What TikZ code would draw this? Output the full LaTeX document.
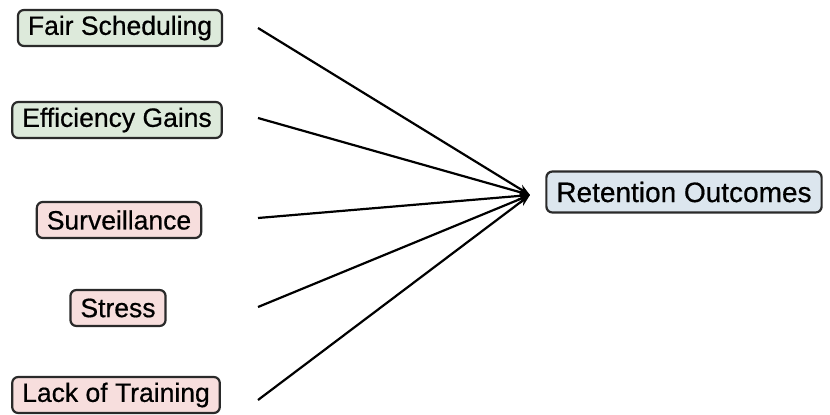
\documentclass[tikz,border=0pt]{standalone}
\usepackage{fontspec}
\setmainfont{Liberation Sans}
\newfontfamily\lblfont[FakeBold=0.6]{Liberation Sans}
\usetikzlibrary{arrows.meta}
\definecolor{gfill}{HTML}{DDEADB}
\definecolor{pfill}{HTML}{F7DEDD}
\definecolor{bfill}{HTML}{DCE6EE}
\definecolor{bord}{HTML}{2A2A2A}
\tikzset{
  factor/.style={draw=bord, line width=2.2pt, rounded corners=6pt, inner xsep=10pt, minimum height=36pt, font=\lblfont\fontsize{26.5}{30}\selectfont, text=black},
  goodbox/.style={factor, fill=gfill},
  badbox/.style={factor, fill=pfill},
  outbox/.style={factor, fill=bfill, minimum height=41pt, inner xsep=10pt, font=\lblfont\fontsize{28}{32}\selectfont},
  link/.style={line width=2.2pt, -{Stealth[length=12pt,width=9pt]}}
}
\begin{document}
\begin{tikzpicture}[x=1pt,y=-1pt]
\useasboundingbox (0,0) rectangle (830,415);
\node[goodbox] (fair) at (120,28) {Fair Scheduling};
\node[goodbox] (eff) at (117,120) {Efficiency Gains};
\node[badbox] (surv) at (119,220) {Surveillance};
\node[badbox] (stress) at (118,308) {Stress};
\node[badbox] (lack) at (116,395) {Lack of Training};
\node[outbox] (ret) at (684,192) {Retention Outcomes};
\coordinate (hub) at (530,195);
\coordinate (s1) at (258,28);
\coordinate (s2) at (258,118);
\coordinate (s3) at (258,218);
\coordinate (s4) at (258,307);
\coordinate (s5) at (258,400);
\foreach \s in {s1,s2,s3,s4,s5} \draw[link] (\s) -- (hub);
\end{tikzpicture}
\end{document}
